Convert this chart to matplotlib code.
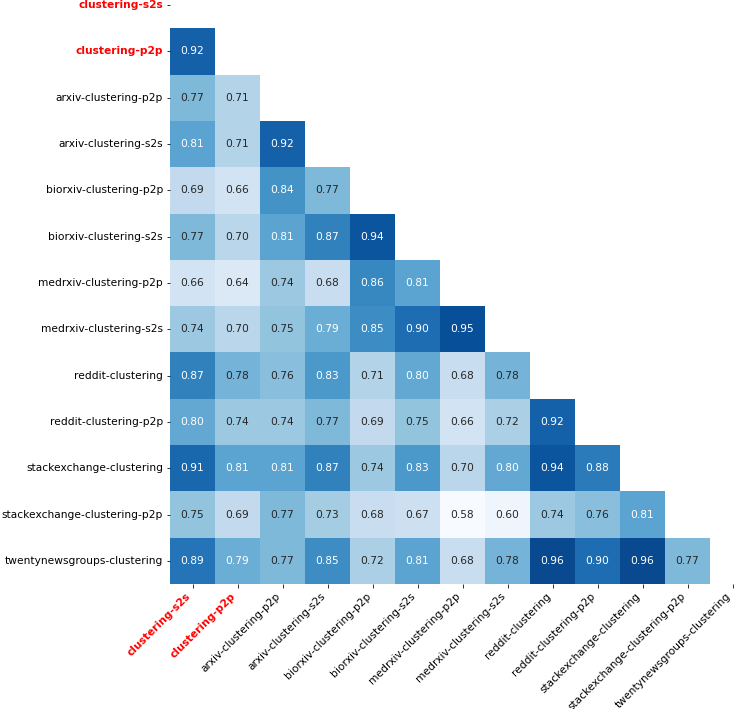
import matplotlib
matplotlib.use("Agg")
import matplotlib.pyplot as plt
import numpy as np
import seaborn as sns

labels = [
    "clustering-s2s", "clustering-p2p",
    "arxiv-clustering-p2p", "arxiv-clustering-s2s",
    "biorxiv-clustering-p2p", "biorxiv-clustering-s2s",
    "medrxiv-clustering-p2p", "medrxiv-clustering-s2s",
    "reddit-clustering", "reddit-clustering-p2p",
    "stackexchange-clustering", "stackexchange-clustering-p2p",
    "twentynewsgroups-clustering",
]

# lower triangle of the correlation matrix, row by row (row 0 has no cells)
lower_rows = [
    [],
    [0.92],
    [0.77, 0.71],
    [0.81, 0.71, 0.92],
    [0.69, 0.66, 0.84, 0.77],
    [0.77, 0.70, 0.81, 0.87, 0.94],
    [0.66, 0.64, 0.74, 0.68, 0.86, 0.81],
    [0.74, 0.70, 0.75, 0.79, 0.85, 0.90, 0.95],
    [0.87, 0.78, 0.76, 0.83, 0.71, 0.80, 0.68, 0.78],
    [0.80, 0.74, 0.74, 0.77, 0.69, 0.75, 0.66, 0.72, 0.92],
    [0.91, 0.81, 0.81, 0.87, 0.74, 0.83, 0.70, 0.80, 0.94, 0.88],
    [0.75, 0.69, 0.77, 0.73, 0.68, 0.67, 0.58, 0.60, 0.74, 0.76, 0.81],
    [0.89, 0.79, 0.77, 0.85, 0.72, 0.81, 0.68, 0.78, 0.96, 0.90, 0.96, 0.77],
]
highlight = ["clustering-s2s", "clustering-p2p"]

n = len(labels)
corr = np.full((n, n), np.nan)
for i, row in enumerate(lower_rows):
    corr[i, :len(row)] = row
mask = np.triu(np.ones((n, n), dtype=bool))

fs = 10.6
fig = plt.figure(figsize=(734 / 72, 709 / 72), dpi=72)
# the heatmap runs past the top and right edges of the picture, as in the original
ax = fig.add_axes([170 / 734, 1 - 584 / 709, 585 / 734, 602 / 709])
sns.heatmap(corr, mask=mask, annot=True, fmt=".2f", cmap="Blues",
            vmin=0.58, vmax=1.0, cbar=False, ax=ax,
            xticklabels=labels, yticklabels=labels,
            annot_kws={"fontsize": fs})

ax.set_xticklabels(labels, rotation=45, ha="right", fontsize=fs)
ax.set_yticklabels(labels, rotation=0, fontsize=fs)
for lab in ax.get_xticklabels() + ax.get_yticklabels():
    if lab.get_text() in highlight:
        lab.set_color("red")
        lab.set_fontweight("bold")

fig.savefig("out.png", dpi=72)
